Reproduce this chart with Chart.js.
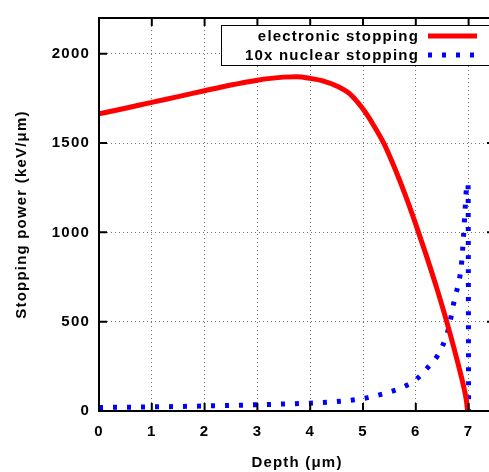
<!DOCTYPE html>
<html>
<head>
<meta charset="utf-8">
<script src="https://cdn.jsdelivr.net/npm/chart.js@4.4.0/dist/chart.umd.min.js"></script>
<style>
  html, body { margin: 0; padding: 0; background: #fff; overflow: hidden; }
  canvas { display: block; }
</style>
</head>
<body>
<canvas id="stopChart" width="497" height="472"></canvas>
<script>
// Electronic stopping vs depth (um, keV/um)
const elecDepth = [0, 0.5, 1, 1.5, 2, 2.5, 3, 3.25, 3.5, 3.75, 4, 4.25, 4.5, 4.75, 5, 5.2, 5.4, 5.6, 5.8, 6.0, 6.2, 6.4, 6.6, 6.8, 6.9, 6.96, 6.98];
const elecPower = [1663, 1695, 1728, 1760, 1793, 1825, 1852, 1862, 1869, 1871, 1862, 1847, 1820, 1775, 1690, 1600, 1495, 1360, 1210, 1045, 870, 685, 485, 265, 145, 55, 0];

// Nuclear stopping, scaled x10
const nuclDepth = [0, 0.5, 1, 1.5, 2, 2.5, 3, 3.5, 4, 4.5, 5, 5.25, 5.5, 5.75, 6.0, 6.2, 6.4, 6.5, 6.6, 6.65, 6.7, 6.76, 6.82, 6.86, 6.9, 6.93, 6.97, 6.99, 7.0];
const nuclPower = [20, 21, 23, 25, 28, 31, 35, 39, 44, 53, 70, 86, 106, 133, 175, 235, 305, 360, 440, 500, 580, 655, 730, 805, 960, 1110, 1270, 1275, 0];

const depthTicks = [0, 1, 2, 3, 4, 5, 6, 7];
const powerTicks = [0, 500, 1000, 1500, 2000];
const seriesLabels = ['electronic stopping', '10x nuclear stopping'];

const FONT = { family: "'Liberation Sans', Arial, sans-serif", size: 15, weight: 'bold' };
const SPACING = '1.2px';

function toPoints(xs, ys) {
    return xs.map((x, i) => ({ x: x, y: ys[i] }));
}

// wider letter spacing for all canvas text
const spacingPlugin = {
    id: 'spacing',
    beforeLayout(chart) { chart.ctx.letterSpacing = SPACING; },
    beforeDraw(chart) { chart.ctx.letterSpacing = SPACING; }
};

// black frame with inward tick marks on all four sides
const framePlugin = {
    id: 'frame',
    afterDatasetsDraw(chart) {
        const { ctx, chartArea: a, scales } = chart;
        const len = 8;
        ctx.save();
        ctx.strokeStyle = '#000';
        ctx.lineWidth = 2;
        ctx.beginPath();
        depthTicks.forEach(v => {
            const px = scales.x.getPixelForValue(v);
            ctx.moveTo(px, a.bottom); ctx.lineTo(px, a.bottom - len);
            ctx.moveTo(px, a.top); ctx.lineTo(px, a.top + len);
        });
        powerTicks.forEach(v => {
            const py = scales.y.getPixelForValue(v);
            ctx.moveTo(a.left, py); ctx.lineTo(a.left + len, py);
            ctx.moveTo(a.right, py); ctx.lineTo(a.right - len, py);
        });
        ctx.stroke();
        ctx.strokeRect(a.left, a.top, a.right - a.left, a.bottom - a.top);
        ctx.restore();
    }
};

// boxed key in the top right corner
const keyPlugin = {
    id: 'key',
    afterDraw(chart) {
        const { ctx, chartArea: a } = chart;
        const bx = a.left + 122, by = a.top + 7;
        ctx.save();
        ctx.fillStyle = '#fff';
        ctx.fillRect(bx, by, a.right - 4 - bx, 40);
        ctx.strokeStyle = '#000';
        ctx.lineWidth = 1;
        ctx.strokeRect(bx + 0.5, by + 0.5, a.right - 4 - bx, 40);

        ctx.font = 'bold 15px ' + FONT.family;
        ctx.letterSpacing = SPACING;
        ctx.fillStyle = '#000';
        ctx.textAlign = 'right';
        ctx.textBaseline = 'middle';
        const textX = a.left + 320;
        const rows = [a.top + 18, a.top + 37];
        chart.data.datasets.forEach((ds, i) => {
            ctx.fillText(seriesLabels[i], textX, rows[i] + 1);
            ctx.beginPath();
            ctx.strokeStyle = ds.borderColor;
            ctx.lineWidth = ds.borderWidth;
            ctx.lineCap = 'butt';
            ctx.setLineDash(ds.borderDash || []);
            ctx.moveTo(a.left + 329, rows[i]);
            ctx.lineTo(a.left + 378, rows[i]);
            ctx.stroke();
        });
        ctx.restore();
    }
};

const ctx = document.getElementById('stopChart').getContext('2d');
new Chart(ctx, {
    type: 'scatter',
    data: {
        datasets: [
            {
                label: seriesLabels[0],
                data: toPoints(elecDepth, elecPower),
                showLine: true,
                borderColor: '#ff0000',
                borderWidth: 5,
                pointRadius: 0,
                cubicInterpolationMode: 'monotone'
            },
            {
                label: seriesLabels[1],
                data: toPoints(nuclDepth, nuclPower),
                showLine: true,
                borderColor: '#0000ff',
                borderWidth: 5,
                borderDash: [4, 10],
                borderCapStyle: 'butt',
                pointRadius: 0,
                cubicInterpolationMode: 'monotone'
            }
        ]
    },
    options: {
        responsive: false,
        animation: false,
        layout: { padding: { top: 15, right: 2, left: 0, bottom: 0 } },
        plugins: {
            legend: { display: false },
            tooltip: { enabled: false }
        },
        scales: {
            x: {
                type: 'linear',
                min: 0,
                max: 7.5,
                afterBuildTicks: s => { s.ticks = depthTicks.map(v => ({ value: v })); },
                afterFit: s => { s.height = 61; },
                ticks: { color: '#000', font: FONT, padding: 12, maxRotation: 0, callback: v => String(v) },
                grid: { color: 'rgba(0,0,0,0.55)', lineWidth: 1, drawTicks: false },
                border: { display: false, dash: [1, 3] },
                title: { display: true, text: 'Depth (μm)', color: '#000', font: FONT, padding: { top: 0, bottom: 0 } }
            },
            y: {
                type: 'linear',
                min: 0,
                max: 2200,
                afterBuildTicks: s => { s.ticks = powerTicks.map(v => ({ value: v })); },
                afterFit: s => { s.width = 99; },
                ticks: { color: '#000', font: FONT, padding: 9, callback: v => String(v) },
                grid: { color: 'rgba(0,0,0,0.55)', lineWidth: 1, drawTicks: false },
                border: { display: false, dash: [1, 3] },
                title: { display: true, text: 'Stopping power (keV/μm)', color: '#000', font: FONT, padding: { top: 13, bottom: 0 } }
            }
        }
    },
    plugins: [spacingPlugin, framePlugin, keyPlugin]
});
</script>
</body>
</html>
